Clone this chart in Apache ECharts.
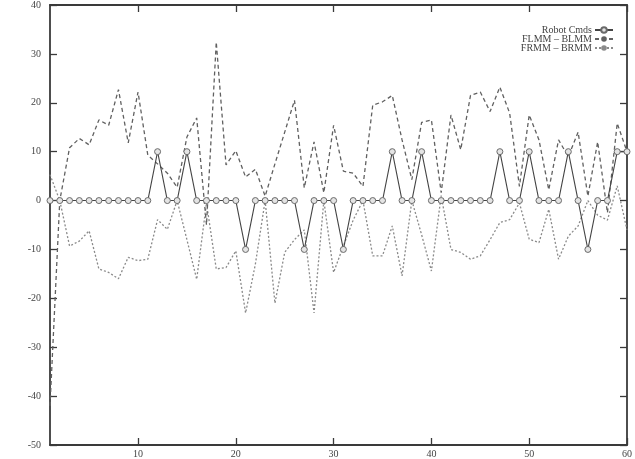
<!DOCTYPE html>
<html><head><meta charset="utf-8">
<script src="https://cdn.jsdelivr.net/npm/echarts@6/dist/echarts.min.js"></script>
<style>html,body{margin:0;padding:0;background:#fff}#c{width:635px;height:459px}</style>
</head><body><div id="c"></div>
<script>
const xValues = Array.from({length: 60}, (_, i) => i + 1);
const robotCmds = [0,0,0,0,0,0,0,0,0,0, 0,10,0,0,10,0,0,0,0,0, -10,0,0,0,0,0,-10,0,0,0, -10,0,0,0,0,10,0,0,10,0, 0,0,0,0,0,0,10,0,0,10, 0,0,0,10,0,-10,0,0,10,10];
const flmmBlmm = [-42,0,10.8,12.7,11.4,16.5,15.4,22.7,11.8,22.2, 9.3,7.5,5.6,2.7,13,16.9,-5,32.4,7.3,10.2, 4.8,6.4,0.9,7.5,14,20.5,2.6,12,1.6,15.4, 6,5.6,2.9,19.5,20.2,21.5,12.4,4.3,16,16.5, 1.6,17.5,10.4,21.5,22.2,18.2,23.2,17.9,2.9,17.5, 12.4,2.2,12.4,9,14,0.9,12,-2.5,15.8,10];
const frmmBrmm = [5.3,0,-9.3,-8.3,-6.2,-14,-14.7,-16,-11.6,-12.3, -12,-3.9,-5.9,0,-8,-16.1,-0.5,-14,-13.7,-10.3, -23,-13,0,-21,-10.6,-8,-6,-23,0,-14.7, -9.3,-4,0,-11.3,-11.3,-5.2,-15.4,0,-7,-14.4, 1,-10,-10.6,-12,-11.3,-8,-4.5,-3.9,-0.5,-7.9, -8.6,-1.8,-12,-7.3,-5.2,0,-3,-4,3,-6];
const xTicks = [10,20,30,40,50,60];
const seriesNames = ['Robot Cmds', 'FLMM \u2013 BLMM', 'FRMM \u2013 BRMM'];

const pair = arr => xValues.map((x, i) => [x, arr[i]]);
const FONT = 'Liberation Serif';
const axisLineStyle = {show: true, onZero: false, lineStyle: {color: '#3a3a3a', width: 1.8}};
const tickStyle = {color: '#3a3a3a', width: 1.3};
const chart = echarts.init(document.getElementById('c'), null, {renderer: 'canvas'});
chart.setOption({
  animation: false,
  backgroundColor: '#fff',
  grid: {left: 50, right: 2, top: 4, bottom: 12, containLabel: false},
  legend: {
    orient: 'vertical', right: 16, top: 20, align: 'right',
    itemWidth: 18, itemHeight: 7, itemGap: -1,
    textStyle: {fontFamily: FONT, fontSize: 10, lineHeight: 8, color: '#444', padding: [0, -2, 0, 0]},
    data: seriesNames
  },
  xAxis: [
    {type: 'value', min: 1, max: 60, position: 'bottom', axisLine: axisLineStyle, splitLine: {show: false},
      axisTick: {show: true, inside: true, length: 7, customValues: xTicks, lineStyle: tickStyle},
      axisLabel: {show: true, customValues: xTicks, fontFamily: FONT, fontSize: 10, color: '#444', margin: 4}},
    {type: 'value', min: 1, max: 60, position: 'top', axisLine: axisLineStyle, splitLine: {show: false},
      axisTick: {show: true, inside: true, length: 7, customValues: xTicks, lineStyle: tickStyle},
      axisLabel: {show: false}}
  ],
  yAxis: [
    {type: 'value', min: -50, max: 40, interval: 10, position: 'left', axisLine: axisLineStyle, splitLine: {show: false},
      axisTick: {show: true, inside: true, length: 7, lineStyle: tickStyle},
      axisLabel: {show: true, fontFamily: FONT, fontSize: 10, color: '#444', margin: 9}},
    {type: 'value', min: -50, max: 40, interval: 10, position: 'right', axisLine: axisLineStyle, splitLine: {show: false},
      axisTick: {show: true, inside: true, length: 7, lineStyle: tickStyle},
      axisLabel: {show: false}}
  ],
  series: [
    {name: seriesNames[0], type: 'line', data: pair(robotCmds), symbol: 'circle', symbolSize: 6,
      lineStyle: {color: '#444', width: 1.1}, itemStyle: {color: '#e4e4e4', borderColor: '#6a6a6a', borderWidth: 1}, z: 5},
    {name: seriesNames[1], type: 'line', data: pair(flmmBlmm), symbol: 'none',
      lineStyle: {color: '#606060', width: 1.3, type: [4, 3]}, itemStyle: {color: '#606060'}, z: 3},
    {name: seriesNames[2], type: 'line', data: pair(frmmBrmm), symbol: 'none',
      lineStyle: {color: '#8a8a8a', width: 1.3, type: [2, 2]}, itemStyle: {color: '#8a8a8a'}, z: 2}
  ]
});
</script></body></html>
